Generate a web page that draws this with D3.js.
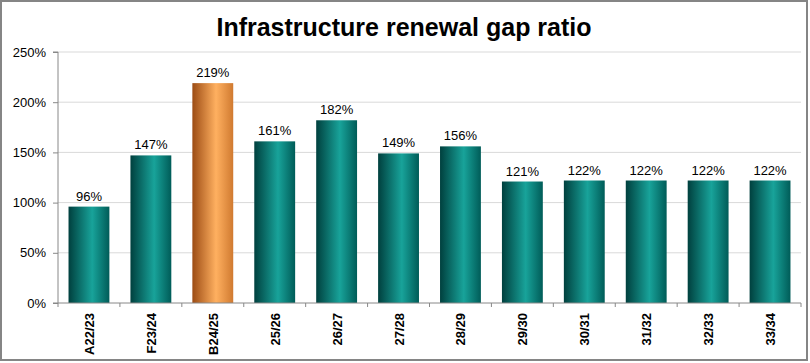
<!DOCTYPE html>
<html><head><meta charset="utf-8">
<script src="https://cdn.jsdelivr.net/npm/d3@7"></script>
<style>body{margin:0;background:#fff}svg{display:block}</style>
</head><body>
<svg id="c" width="810" height="363"></svg>
<script>
const categories = ["A22/23","F23/24","B24/25","25/26","26/27","27/28","28/29","29/30","30/31","31/32","32/33","33/34"];
const values = [96,147,219,161,182,149,156,121,122,122,122,122];
const highlight = ["B24/25"];
const yTicks = [0,50,100,150,200,250];
const title = "Infrastructure renewal gap ratio";

const svg = d3.select("#c");
const W = 810, H = 363;
const m = {l:58, r:9, t:52, b:60};

svg.append("rect").attr("x",1).attr("y",1).attr("width",806).attr("height",359)
  .attr("fill","#fff").attr("stroke","#858585").attr("stroke-width",2);

const defs = svg.append("defs");
function grad(id, edgeL, mid, edgeR){
  const g = defs.append("linearGradient").attr("id",id).attr("x1","0").attr("x2","1").attr("y1","0").attr("y2","0");
  g.append("stop").attr("offset","0%").attr("stop-color",edgeL);
  g.append("stop").attr("offset","58%").attr("stop-color",mid);
  g.append("stop").attr("offset","100%").attr("stop-color",edgeR);
}
grad("gTeal","#00403e","#18a39a","#005c58");
grad("gOrange","#9c4c14","#ffb060","#d07a30");

const x = d3.scaleBand().domain(categories).range([m.l, W-m.r]).paddingInner(0.34).paddingOuter(0.17);
const y = d3.scaleLinear().domain([0,250]).range([H-m.b, m.t]);

// grid
svg.append("g").selectAll("line").data(yTicks.filter(d=>d>0)).join("line")
  .attr("x1",m.l).attr("x2",W-m.r).attr("y1",d=>y(d)).attr("y2",d=>y(d))
  .attr("stroke","#d9d9d9").attr("stroke-width",1);

// y axis
const ya = svg.append("g").attr("transform",`translate(${m.l},0)`)
  .call(d3.axisLeft(y).tickValues(yTicks).tickFormat(d=>d+"%").tickSize(5).tickPadding(7));
ya.select(".domain").attr("stroke","#888").attr("d",`M-5,${y(250)}H0V${y(0)}H-5`);
ya.selectAll(".tick line").attr("stroke","#888");
ya.selectAll("text").attr("font-family","Liberation Sans, Arial, sans-serif").attr("font-size",13).attr("fill","#000");

// bars
svg.append("g").selectAll("rect").data(categories).join("rect")
  .attr("x",d=>x(d)).attr("width",x.bandwidth())
  .attr("y",(d,i)=>y(values[i])).attr("height",(d,i)=>y(0)-y(values[i]))
  .attr("fill",d=>highlight.includes(d)?"url(#gOrange)":"url(#gTeal)");

// x axis
const step = x.step();
const xa = svg.append("g").attr("transform",`translate(0,${y(0)})`);
xa.append("line").attr("x1",m.l).attr("x2",W-m.r).attr("stroke","#888");
xa.selectAll(".tk").data(d3.range(categories.length+1)).join("line")
  .attr("x1",i=>m.l+i*step).attr("x2",i=>m.l+i*step).attr("y1",0).attr("y2",4).attr("stroke","#888");
xa.selectAll("text").data(categories).join("text")
  .attr("transform",d=>`translate(${x(d)+x.bandwidth()/2+5},10) rotate(-90)`)
  .attr("text-anchor","end")
  .attr("font-family","Liberation Sans, Arial, sans-serif").attr("font-weight","bold").attr("font-size",13)
  .text(d=>d);

// value labels
svg.append("g").selectAll("text").data(categories).join("text")
  .attr("x",d=>x(d)+x.bandwidth()/2).attr("y",(d,i)=>y(values[i])-6)
  .attr("text-anchor","middle")
  .attr("font-family","Liberation Sans, Arial, sans-serif").attr("font-size",13)
  .text((d,i)=>values[i]+"%");

// title
svg.append("text").attr("x",404).attr("y",36).attr("text-anchor","middle")
  .attr("font-family","Liberation Sans Narrow, Arial Narrow, sans-serif").attr("font-weight","bold").attr("font-size",25)
  .text(title);
</script>
</body></html>
